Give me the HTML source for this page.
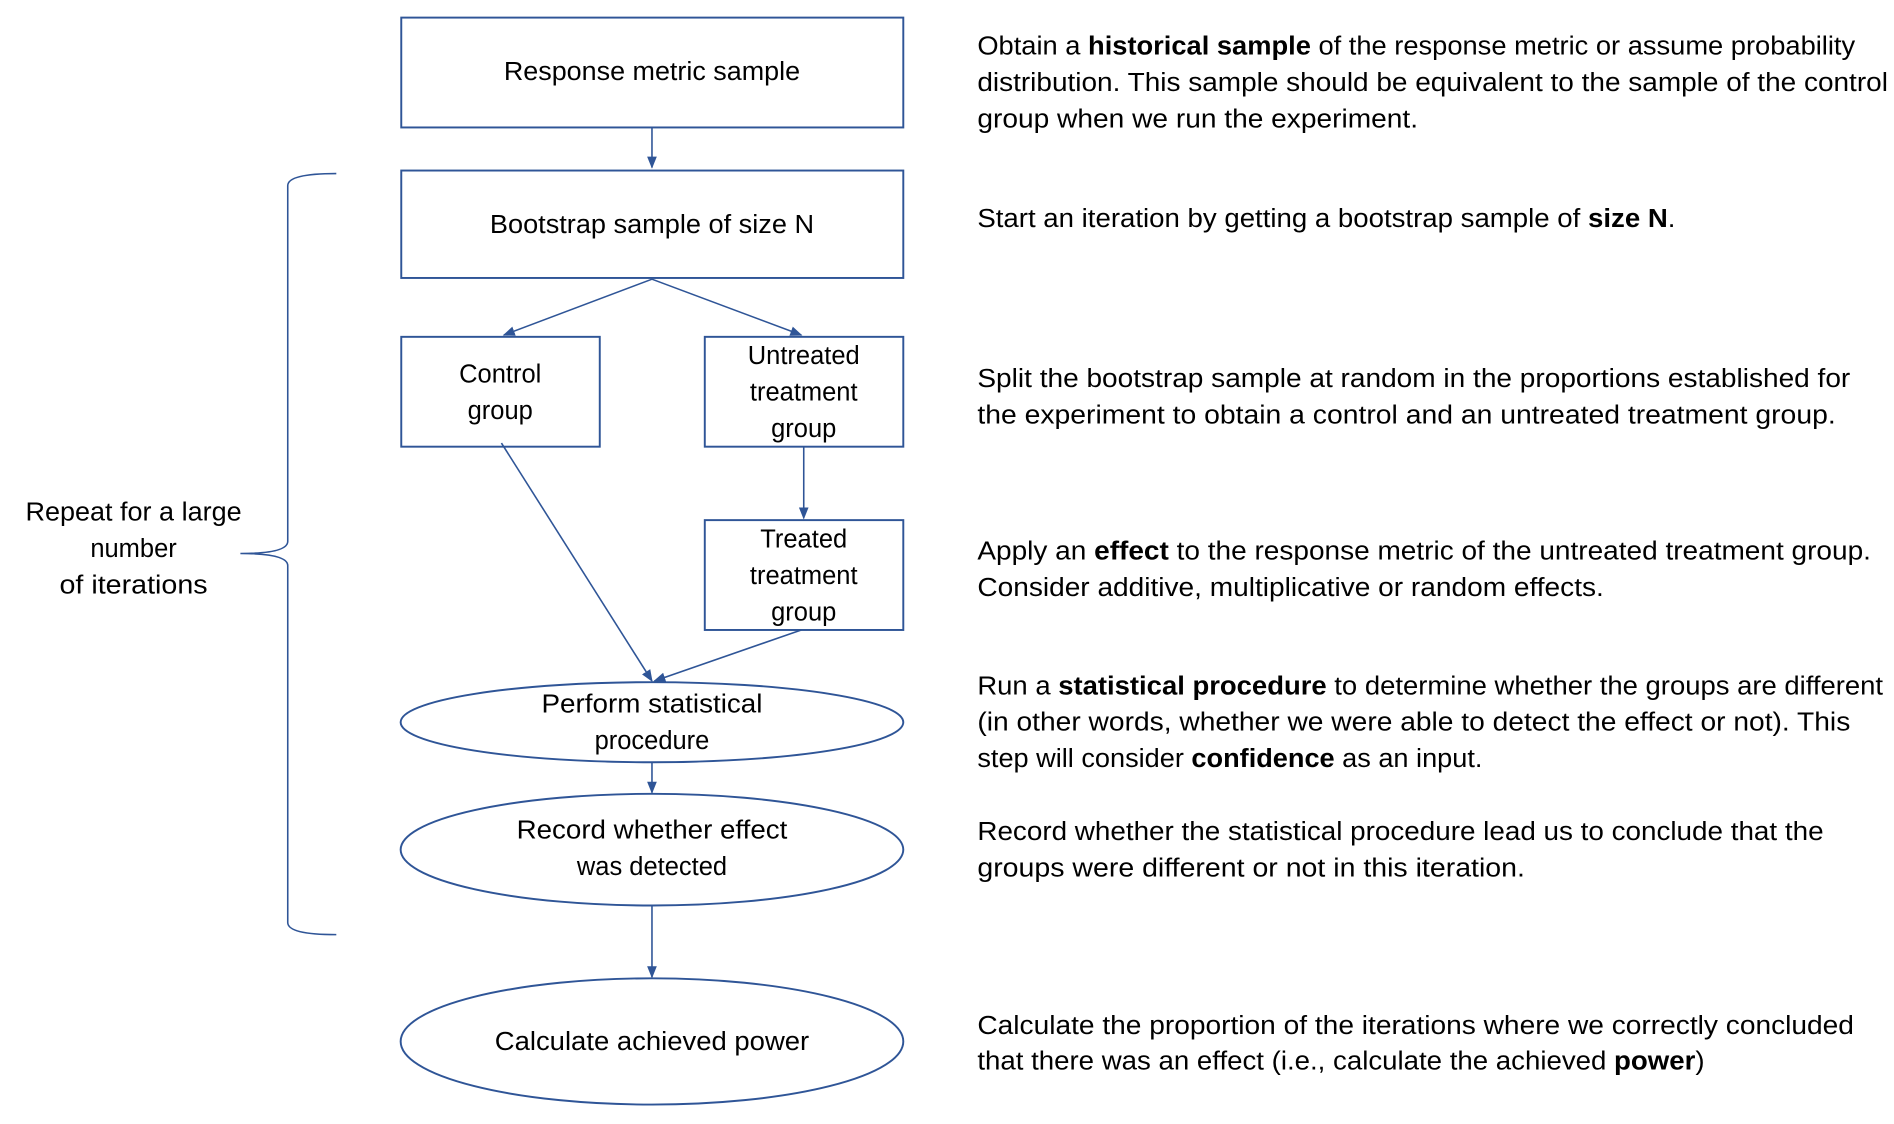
<!DOCTYPE html>
<html><head><meta charset="utf-8"><style>
html,body{margin:0;padding:0;background:#fff;}
svg{display:block;}
text{font-family:"Liberation Sans",sans-serif;font-size:21px;fill:#000;}
</style></head><body>
<svg width="1894" height="1124" viewBox="0 0 1560 926" preserveAspectRatio="none" xmlns="http://www.w3.org/2000/svg">
<defs><marker id="a" markerWidth="10" markerHeight="10" refX="9" refY="5" orient="auto" markerUnits="userSpaceOnUse"><path d="M0,1 L10,5 L0,9 Z" fill="#2f5597"/></marker></defs>
<g fill="none" stroke="#2f5597" stroke-width="1.6">
<rect x="330.5" y="14.5" width="413.5" height="90.5"/>
<rect x="330.5" y="140.5" width="413.5" height="88.5"/>
<rect x="330.5" y="277.5" width="163.5" height="90.5"/>
<rect x="580.5" y="277.5" width="163.5" height="90.5"/>
<rect x="580.5" y="428.5" width="163.5" height="90.5"/>
<ellipse cx="537" cy="595" rx="207" ry="33"/>
<ellipse cx="537" cy="700" rx="207" ry="46"/>
<ellipse cx="537" cy="858" rx="207" ry="52"/>
<g stroke-width="1.3">
<line x1="537" y1="105" x2="537" y2="138" marker-end="url(#a)"/>
<line x1="537" y1="230" x2="415" y2="276" marker-end="url(#a)"/>
<line x1="537" y1="230" x2="660" y2="276" marker-end="url(#a)"/>
<line x1="662" y1="368" x2="662" y2="427" marker-end="url(#a)"/>
<line x1="413" y1="365" x2="537" y2="561" marker-end="url(#a)"/>
<line x1="660" y1="519" x2="539" y2="561" marker-end="url(#a)"/>
<line x1="537" y1="628" x2="537" y2="653" marker-end="url(#a)"/>
<line x1="537" y1="746" x2="537" y2="805" marker-end="url(#a)"/>
<path d="M277,143 Q237,143 237,153 L237,446 Q237,456 198,456 Q237,456 237,466 L237,760 Q237,770 277,770"/>
</g>
</g>
<g text-anchor="middle">
<text x="537" y="66" textLength="244" lengthAdjust="spacingAndGlyphs">Response metric sample</text>
<text x="537" y="192" textLength="267" lengthAdjust="spacingAndGlyphs">Bootstrap sample of size N</text>
<text x="412" y="315">Control</text>
<text x="412" y="345">group</text>
<text x="662" y="300">Untreated</text>
<text x="662" y="330">treatment</text>
<text x="662" y="360">group</text>
<text x="662" y="451">Treated</text>
<text x="662" y="481">treatment</text>
<text x="662" y="511">group</text>
<text x="537" y="587" textLength="182" lengthAdjust="spacingAndGlyphs">Perform statistical</text>
<text x="537" y="617">procedure</text>
<text x="537" y="691" textLength="223" lengthAdjust="spacingAndGlyphs">Record whether effect</text>
<text x="537" y="721">was detected</text>
<text x="537" y="865" textLength="259" lengthAdjust="spacingAndGlyphs">Calculate achieved power</text>
<text x="110" y="429" textLength="178" lengthAdjust="spacingAndGlyphs">Repeat for a large</text>
<text x="110" y="459">number</text>
<text x="110" y="489" textLength="122" lengthAdjust="spacingAndGlyphs">of iterations</text>
</g>
<g>
<text x="805" y="45" textLength="723" lengthAdjust="spacingAndGlyphs">Obtain a <tspan font-weight="bold">historical sample</tspan> of the response metric or assume probability</text>
<text x="805" y="75" textLength="750" lengthAdjust="spacingAndGlyphs">distribution. This sample should be equivalent to the sample of the control</text>
<text x="805" y="105" textLength="363" lengthAdjust="spacingAndGlyphs">group when we run the experiment.</text>
<text x="805" y="187" textLength="575" lengthAdjust="spacingAndGlyphs">Start an iteration by getting a bootstrap sample of <tspan font-weight="bold">size N</tspan>.</text>
<text x="805" y="319" textLength="719" lengthAdjust="spacingAndGlyphs">Split the bootstrap sample at random in the proportions established for</text>
<text x="805" y="349" textLength="707" lengthAdjust="spacingAndGlyphs">the experiment to obtain a control and an untreated treatment group.</text>
<text x="805" y="461" textLength="736" lengthAdjust="spacingAndGlyphs">Apply an <tspan font-weight="bold">effect</tspan> to the response metric of the untreated treatment group.</text>
<text x="805" y="491" textLength="516" lengthAdjust="spacingAndGlyphs">Consider additive, multiplicative or random effects.</text>
<text x="805" y="572" textLength="746" lengthAdjust="spacingAndGlyphs">Run a <tspan font-weight="bold">statistical procedure</tspan> to determine whether the groups are different</text>
<text x="805" y="602" textLength="719" lengthAdjust="spacingAndGlyphs">(in other words, whether we were able to detect the effect or not). This</text>
<text x="805" y="632" textLength="416" lengthAdjust="spacingAndGlyphs">step will consider <tspan font-weight="bold">confidence</tspan> as an input.</text>
<text x="805" y="692" textLength="697" lengthAdjust="spacingAndGlyphs">Record whether the statistical procedure lead us to conclude that the</text>
<text x="805" y="722" textLength="451" lengthAdjust="spacingAndGlyphs">groups were different or not in this iteration.</text>
<text x="805" y="852" textLength="722" lengthAdjust="spacingAndGlyphs">Calculate the proportion of the iterations where we correctly concluded</text>
<text x="805" y="881" textLength="599" lengthAdjust="spacingAndGlyphs">that there was an effect (i.e., calculate the achieved <tspan font-weight="bold">power</tspan>)</text>
</g>
</svg>
</body></html>
